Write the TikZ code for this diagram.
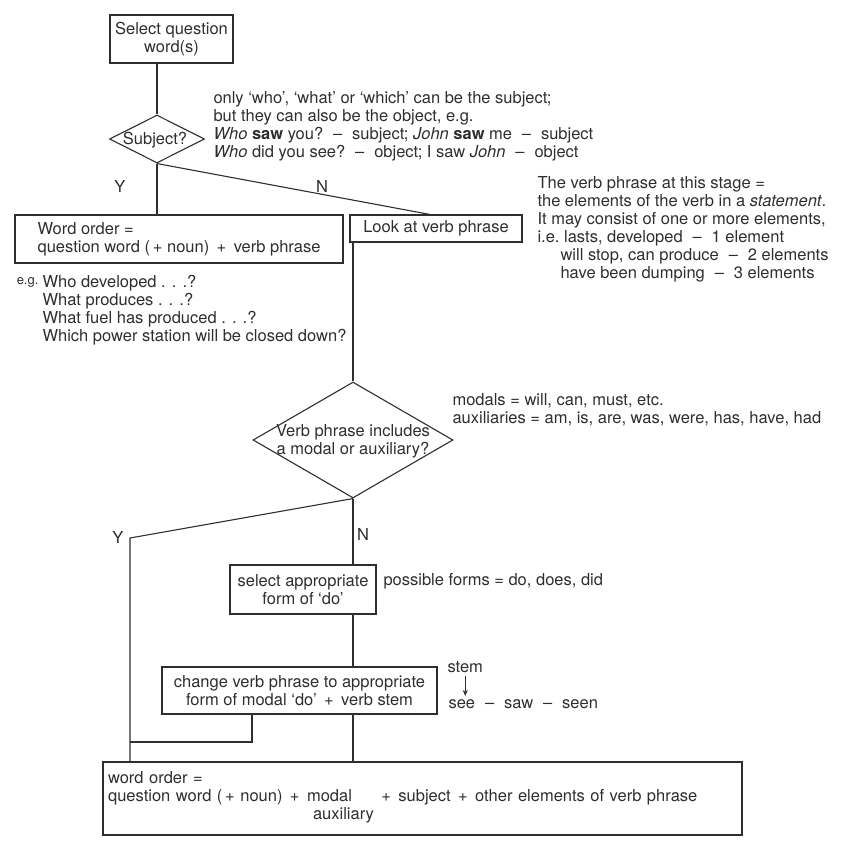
\documentclass[tikz,border=0pt]{standalone}
\usepackage{fontspec}
\setmainfont{TeX Gyre Heros}
\usetikzlibrary{arrows.meta,shapes.geometric}
\newcommand{\sdash}{\hspace{0.6em}--\hspace{0.6em}}
\newcommand{\pl}{\hspace{0.45em}+\hspace{0.45em}}

\begin{document}
\begin{tikzpicture}[x=1pt, y=-1pt, line width=1.1pt, color=black!82,
  box/.style={draw, rectangle, inner sep=0pt, align=center},
  decision/.style={draw, diamond, inner sep=0pt},
  note/.style={anchor=north west, align=left, inner sep=0pt},
  every node/.style={font=\fontsize{16.5}{18}\selectfont}]
  \useasboundingbox (0,0) rectangle (841,860);

  % Kaesten
  \node[box, minimum width=123, minimum height=48] (select) at (171.5,39) {Select question\\word(s)};
  \node[decision, minimum width=95, minimum height=48] (subj) at (157,139) {};
  \node (subjtext) at (155,140) {Subject?};
  \node[box, minimum width=328, minimum height=48, align=left] (wo) at (179,239)
    {Word order =\\question word (\,+\ noun)\pl verb phrase};
  \node[box, minimum width=172, minimum height=27] (look) at (436,228.5) {Look at verb phrase};
  \node[decision, minimum width=200, minimum height=116] (vp) at (353,440) {};
  \node[align=center, inner sep=0pt] (vptext) at (353,441) {Verb phrase includes\\a modal or auxiliary?};
  \node[box, minimum width=146, minimum height=49] (seldo) at (303,589.5) {select appropriate\\form of `do'};
  \node[box, minimum width=275, minimum height=47] (change) at (299.5,690.5)
    {change verb phrase to appropriate\\form of modal `do'\pl verb stem};
  \node[box, minimum height=73, text width=629, inner xsep=5pt, align=left] (final) at (422.5,798.5)
    {word order =\\question word (\,+\ noun)\pl\begin{tabular}[t]{@{}l@{}}modal\\\hspace*{6pt}auxiliary\end{tabular}%
     \pl subject\pl other elements of verb phrase};

  % Anmerkungen
  \node[note] (subjnote) at (213,91) {only `who', `what' or `which' can be the subject;\\
    but they can also be the object, e.g.\\
    \textit{Who} \textbf{saw} you?\sdash subject; \textit{John} \textbf{saw} me\sdash subject\\
    \textit{Who} did you see?\sdash object; I saw \textit{John}\sdash object};
  \node[note] (vpnote) at (537,176) {The verb phrase at this stage =\\
    the elements of the verb in a \textit{statement}.\\
    It may consist of one or more elements,\\
    i.e.\ lasts, developed\sdash 1 element\\
    \hspace*{23pt}will stop, can produce\sdash 2 elements\\
    \hspace*{23pt}have been dumping\sdash 3 elements};
  \node[note, anchor=north east, font=\fontsize{13}{18}\selectfont] (egmark) at (39,277) {e.g.};
  \node[note] (egnote) at (42,275) {Who developed . . .?\\
    What produces . . .?\\
    What fuel has produced . . .?\\
    Which power station will be closed down?};
  \node[note] (modnote) at (452,393) {modals = will, can, must, etc.\\
    auxiliaries = am, is, are, was, were, has, have, had};
  \node[note] (formnote) at (383,573) {possible forms = do, does, did};
  \node[note] (stem) at (447,661) {stem};
  \node[note] (seen) at (448,699) {see\sdash saw\sdash seen};
  \draw[-{Stealth[length=6pt,width=5pt]}, line width=0.8pt] ([yshift=-3pt]stem.south) -- ([yshift=3pt]stem.south |- seen.north);

  % Y / N
  \node (y1) at (120,186) {Y};
  \node (n1) at (322,186) {N};
  \node (y2) at (118,537) {Y};
  \node (n2) at (363,534) {N};

  % Verbindungen
  \coordinate (ycorner) at (130,538);
  \coordinate (join) at (252,742);
  \draw (select.south -| subj.north) -- (subj.north);
  \draw (subj.south) -- (subj.south |- wo.north);
  \draw (subj.south) -- ([xshift=-6pt]look.north);
  \draw (look.south -| vp.north) -- (vp.north);
  \draw (vp.south) -- (ycorner) -- (ycorner |- final.north);
  \draw (vp.south) -- (vp.south |- seldo.north);
  \draw (seldo.south -| vp.south) -- (change.north -| vp.south);
  \draw (change.south -| vp.south) -- (final.north -| vp.south);
  \draw (change.south -| join) -- (join) -- (join -| ycorner);
\end{tikzpicture}
\end{document}
